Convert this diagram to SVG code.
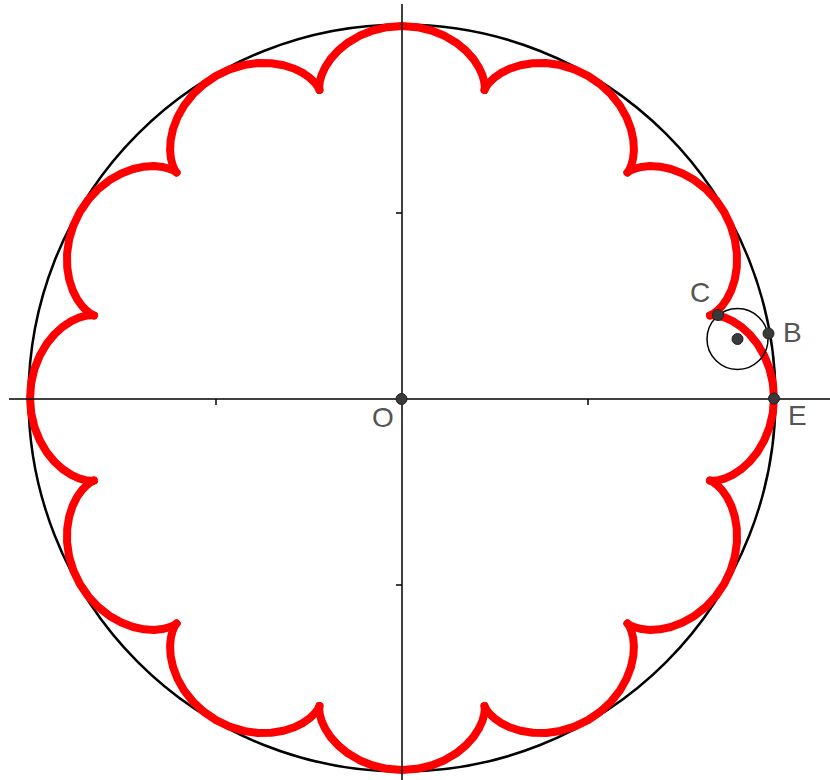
<svg xmlns="http://www.w3.org/2000/svg" width="830" height="780" viewBox="0 0 830 780">
  <style>
    .axis { stroke: #000; stroke-width: 1.5; fill: none; }
    .tick { stroke: #000; stroke-width: 1.5; }
    .circ { stroke: #000; fill: none; }
    .curve { stroke: #FF0000; stroke-width: 8; fill: none; stroke-linejoin: round; stroke-linecap: round; }
    .pt { fill: #3a3a3a; stroke: #222; stroke-width: 1; }
    .lbl { font-family: "Liberation Sans", Arial, sans-serif; font-size: 28px; fill: #555; }
  </style>
  <defs>
    <path id="arc" d="M308.04,82.54 L308.94,82.68 L311.87,82.75 L316.67,82.14 L323.07,80.33 L330.68,76.86 L338.97,71.43 L347.39,63.86 L355.31,54.18 L362.18,42.57 L367.48,29.35 L370.83,14.97 L371.97,0 L370.83,-14.97 L367.48,-29.35 L362.18,-42.57 L355.31,-54.18 L347.39,-63.86 L338.97,-71.43 L330.68,-76.86 L323.07,-80.33 L316.67,-82.14 L311.87,-82.75 L308.94,-82.68 L308.04,-82.54"/>
  </defs>
  <rect width="830" height="780" fill="#fff"/>
  <g id="outer-circle">
    <circle class="circ" cx="402" cy="398" r="373.5" stroke-width="2.5"/>
  </g>
  <g id="curve" class="curve" transform="translate(402,398)">
    <use href="#arc"/>
    <use href="#arc" transform="rotate(30)"/>
    <use href="#arc" transform="rotate(60)"/>
    <use href="#arc" transform="rotate(90)"/>
    <use href="#arc" transform="rotate(120)"/>
    <use href="#arc" transform="rotate(150)"/>
    <use href="#arc" transform="rotate(180)"/>
    <use href="#arc" transform="rotate(210)"/>
    <use href="#arc" transform="rotate(240)"/>
    <use href="#arc" transform="rotate(270)"/>
    <use href="#arc" transform="rotate(300)"/>
    <use href="#arc" transform="rotate(330)"/>
  </g>
  <g id="connectors">
    <line class="axis" x1="9" y1="399" x2="830" y2="399"/>
    <line class="axis" x1="402" y1="4" x2="402" y2="780"/>
    <line class="tick" x1="216" y1="399" x2="216" y2="405"/>
    <line class="tick" x1="588" y1="399" x2="588" y2="405"/>
    <line class="tick" x1="396" y1="213" x2="402" y2="213"/>
    <line class="tick" x1="396" y1="585" x2="402" y2="585"/>
  </g>
  <g id="rolling-circle">
    <circle class="circ" cx="737.5" cy="339" r="30.5" stroke-width="1.5"/>
    <circle class="pt" cx="737.5" cy="339" r="5.5"/>
  </g>
  <g id="node-O">
    <circle class="pt" cx="401.5" cy="399" r="5.5"/>
    <text class="lbl" x="372" y="427">O</text>
  </g>
  <g id="node-E">
    <circle class="pt" cx="774" cy="398.5" r="5.5"/>
    <text class="lbl" x="788" y="425">E</text>
  </g>
  <g id="node-B">
    <circle class="pt" cx="768.5" cy="333.5" r="5.5"/>
    <text class="lbl" x="783" y="342">B</text>
  </g>
  <g id="node-C">
    <circle class="pt" cx="718" cy="315" r="5.5"/>
    <text class="lbl" x="690" y="302">C</text>
  </g>
</svg>
